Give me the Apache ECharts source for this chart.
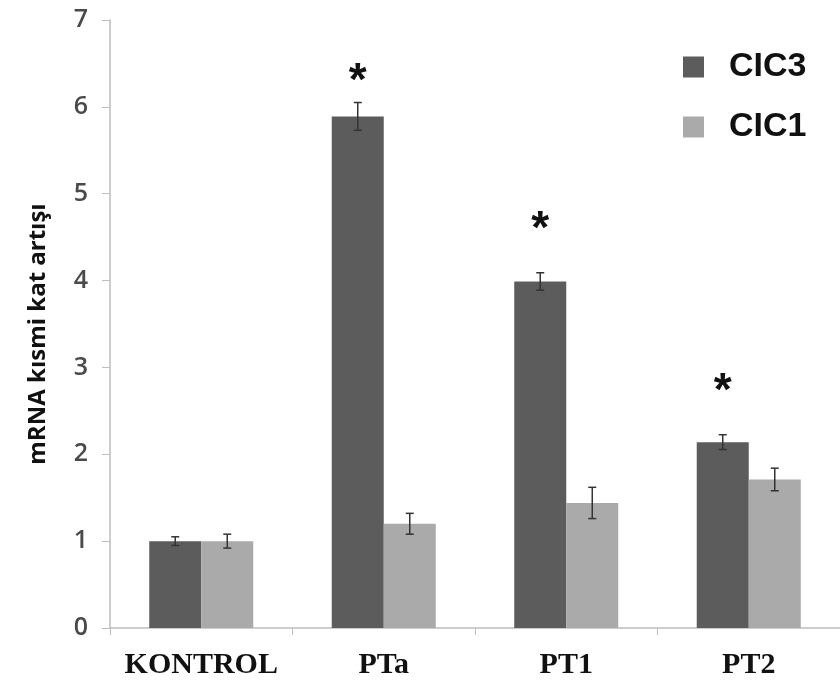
<!DOCTYPE html>
<html>
<head>
<meta charset="utf-8">
<script src="https://cdn.jsdelivr.net/npm/echarts@6/dist/echarts.min.js"></script>
<style>html,body{margin:0;padding:0;background:#fff;}#c{width:840px;height:691px;}</style>
</head>
<body>
<div id="c"></div>
<script>
var categories = ['KONTROL', 'PTa', 'PT1', 'PT2'];
var cic3 = [1.0, 5.89, 3.99, 2.14];
var cic3Err = [0.05, 0.16, 0.10, 0.085];
var cic1 = [1.0, 1.20, 1.44, 1.71];
var cic1Err = [0.08, 0.12, 0.18, 0.13];
var starY = [null, 6.42, 4.72, 2.85];
var yTicks = [0, 1, 2, 3, 4, 5, 6, 7];

var GAP = 0.43;
var chart = echarts.init(document.getElementById('c'));

var errData = categories.map(function (c, i) {
  return [i, cic3[i], cic3Err[i], cic1[i], cic1Err[i], starY[i] == null ? -1 : starY[i]];
});

function drawErr(cx, v, e, api, cap) {
  var top = api.coord([0, v + e])[1];
  var bot = api.coord([0, v - e])[1];
  var st = { stroke: '#333', lineWidth: 1.5 };
  return [
    { type: 'line', shape: { x1: cx, y1: top, x2: cx, y2: bot }, style: st },
    { type: 'line', shape: { x1: cx - cap, y1: top, x2: cx + cap, y2: top }, style: st },
    { type: 'line', shape: { x1: cx - cap, y1: bot, x2: cx + cap, y2: bot }, style: st }
  ];
}

chart.setOption({
  animation: false,
  grid: { left: 110, right: -3, top: 20, bottom: 63 },
  legend: {
    orient: 'vertical',
    left: 683, top: 50,
    itemWidth: 21, itemHeight: 21, itemGap: 26,
    padding: 0,
    icon: 'rect',
    data: ['CIC3', 'CIC1'],
    textStyle: { fontFamily: 'Liberation Sans', fontWeight: 'bold', fontSize: 34, color: '#111', lineHeight: 33, padding: [0, 0, 0, 20] }
  },
  xAxis: {
    type: 'category',
    data: categories,
    axisLine: { lineStyle: { color: '#bdbdbd', width: 1.5 } },
    axisTick: { show: true, length: 7, lineStyle: { color: '#bdbdbd' } },
    axisLabel: { interval: 0, fontFamily: 'Liberation Serif', fontWeight: 'bold', fontSize: 30, color: '#111', margin: 22 }
  },
  yAxis: {
    type: 'value', min: 0, max: 7, interval: 1,
    name: 'mRNA kısmi kat artışı',
    nameLocation: 'middle', nameGap: 60,
    nameTextStyle: { fontFamily: 'Open Sans', fontWeight: 'bold', fontSize: 24, color: '#111', padding: [0, 20, 0, 0] },
    axisLine: { show: true, lineStyle: { color: '#bdbdbd', width: 1.5 } },
    axisTick: { show: true, length: 8, lineStyle: { color: '#bdbdbd' } },
    splitLine: { show: false },
    axisLabel: { fontFamily: 'Open Sans', fontWeight: 600, fontSize: 25, color: '#4a4a4a', margin: 22,
      formatter: function (v) { return yTicks.indexOf(v) >= 0 ? String(v) : ''; } }
  },
  series: [
    { name: 'CIC3', type: 'bar', data: cic3, barGap: '0%', barCategoryGap: (GAP * 100) + '%',
      itemStyle: { color: '#5c5c5c' } },
    { name: 'CIC1', type: 'bar', data: cic1, barGap: '0%', barCategoryGap: (GAP * 100) + '%',
      itemStyle: { color: '#aaaaaa' } },
    { type: 'custom', data: errData, z: 10,
      renderItem: function (params, api) {
        var i = api.value(0);
        var x = api.coord([i, 0])[0];
        var band = api.size([1, 0])[0];
        var bw = band * (1 - GAP) / 2;
        var c1 = x - bw / 2, c2 = x + bw / 2;
        var ch = drawErr(c1, api.value(1), api.value(2), api, 4)
          .concat(drawErr(c2, api.value(3), api.value(4), api, 4));
        var s = api.value(5);
        if (s > 0) {
          var sy = api.coord([0, s])[1];
          ch.push({ type: 'text', style: { text: '*', x: c1, y: sy + 12, align: 'center', verticalAlign: 'middle',
            fontFamily: 'Liberation Sans', fontWeight: 'bold', fontSize: 46, fill: '#111' } });
        }
        return { type: 'group', children: ch };
      }
    }
  ]
});
</script>
</body>
</html>
